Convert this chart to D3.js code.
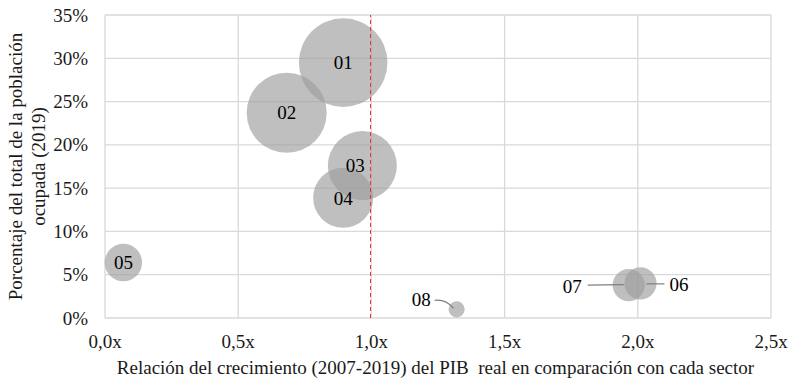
<!DOCTYPE html>
<html>
<head>
<meta charset="utf-8">
<script src="https://cdn.jsdelivr.net/npm/d3@7"></script>
</head>
<body style="margin:0">
<svg id="chart" width="792" height="380"></svg>
<script>
// ---- data ----
const sectors = ["01", "02", "03", "04", "05", "06", "07", "08"];
const growthRatio = [0.894, 0.682, 0.966, 0.894, 0.069, 2.010, 1.966, 1.320];
const employmentShare = [0.295, 0.237, 0.176, 0.139, 0.064, 0.040, 0.038, 0.010];
const bubbleSize = [19.6, 16.0, 11.9, 9.0, 3.5, 2.6, 2.6, 0.65];
const xTicks = [0, 0.5, 1.0, 1.5, 2.0, 2.5];
const yTicks = [0, 0.05, 0.10, 0.15, 0.20, 0.25, 0.30, 0.35];
const referenceX = 1.0;
// label placement: "in" = centered on bubble, "right"/"left" = leader line
const labelMode = ["in", "in", "in", "in", "in", "right", "left", "left"];

const FONT = '"Liberation Serif", monospace';
const FS = 19;
const svg = d3.select("#chart");
const margin = { left: 105, right: 21, top: 15, bottom: 62 };
const W = 792, H = 380;

const x = d3.scaleLinear().domain([0, 2.5]).range([margin.left, W - margin.right]);
const y = d3.scaleLinear().domain([0, 0.35]).range([H - margin.bottom, margin.top]);
const r = d3.scaleSqrt().domain([0, 19.6]).range([0, 44.3]);

const fmtX = d => d3.format(".1f")(d).replace(".", ",") + "x";
const fmtY = d => Math.round(d * 100) + "%";

function txt(parent, s, size) {
  return parent.append("text").attr("font-size", size)
    .style("font-family", FONT).attr("fill", "#1a1a1a").text(s);
}

// gridlines
const grid = svg.append("g");
grid.selectAll("line.h").data(yTicks).join("line")
  .attr("x1", x(0)).attr("x2", x(2.5))
  .attr("y1", d => y(d)).attr("y2", d => y(d))
  .attr("stroke", "#d9d9d9").attr("stroke-width", 1.3);
grid.selectAll("line.v").data(xTicks).join("line")
  .attr("y1", y(0)).attr("y2", y(0.35))
  .attr("x1", d => x(d)).attr("x2", d => x(d))
  .attr("stroke", "#d9d9d9").attr("stroke-width", 1.3);

// tick labels drawn from scales
xTicks.forEach(t => {
  txt(svg, fmtX(t), FS).attr("x", x(t)).attr("y", y(0) + 30).attr("text-anchor", "middle");
});
yTicks.forEach(t => {
  txt(svg, fmtY(t), FS).attr("x", x(0) - 17).attr("y", y(t) + 6.5).attr("text-anchor", "end");
});

// bubbles
const data = sectors.map((s, i) => ({
  s, gx: growthRatio[i], sh: employmentShare[i], sz: bubbleSize[i], mode: labelMode[i]
}));

svg.append("g").selectAll("circle").data(data).join("circle")
  .attr("cx", d => x(d.gx)).attr("cy", d => y(d.sh)).attr("r", d => r(d.sz))
  .attr("fill", "rgb(158,158,158)").attr("fill-opacity", 0.66);

// reference dashed line (on top of bubbles)
const rx = Math.round(x(referenceX)) - 0.5;
svg.append("line")
  .attr("x1", rx).attr("x2", rx)
  .attr("y1", y(0)).attr("y2", y(0.35))
  .attr("stroke", "#ff2a2a").attr("stroke-width", 1)
  .attr("stroke-dasharray", "4,3");

// labels inside bubbles
const lab = svg.append("g");
data.filter(d => d.mode === "in").forEach(d => {
  let dx = 0, dy = 0;
  if (d.s === "03") dx = -7;
  if (d.s === "04") dy = 1;
  txt(lab, d.s, FS).attr("fill", "#000")
    .attr("x", x(d.gx) + dx).attr("y", y(d.sh) + dy + 6.5)
    .attr("text-anchor", "middle");
});

// leader-line labels
const leader = svg.append("g");
data.filter(d => d.mode !== "in").forEach(d => {
  const cx = x(d.gx), cy = y(d.sh);
  if (d.s === "06") {
    leader.append("path")
      .attr("d", `M${cx + 6},${cy + 0.5} L${cx + 24},${cy + 0.5}`)
      .attr("stroke", "#7f7f7f").attr("stroke-width", 1.2).attr("fill", "none");
    txt(leader, d.s, FS).attr("fill", "#000").attr("x", cx + 29).attr("y", cy + 8);
  } else if (d.s === "07") {
    leader.append("path")
      .attr("d", `M${cx - 5},${cy - 0.5} L${cx - 41},${cy}`)
      .attr("stroke", "#7f7f7f").attr("stroke-width", 1.2).attr("fill", "none");
    txt(leader, d.s, FS).attr("fill", "#000").attr("x", cx - 47).attr("y", cy + 8)
      .attr("text-anchor", "end");
  } else if (d.s === "08") {
    leader.append("path")
      .attr("d", `M${cx - 3},${cy - 1} C${cx - 9},${cy - 8} ${cx - 15},${cy - 10} ${cx - 22},${cy - 9}`)
      .attr("stroke", "#7f7f7f").attr("stroke-width", 1.2).attr("fill", "none");
    txt(leader, d.s, FS).attr("fill", "#000").attr("x", cx - 26).attr("y", cy - 3)
      .attr("text-anchor", "end");
  }
});

// axis titles
txt(svg, "Relación del crecimiento (2007-2019) del PIB\u00A0 real en comparación con cada sector", FS)
  .attr("x", (x(0) + x(2.5)) / 2 - 2.5).attr("y", 374)
  .attr("text-anchor", "middle");

const yt = txt(svg, "", FS)
  .attr("transform", `translate(22,${(y(0) + y(0.35)) / 2}) rotate(-90)`)
  .attr("text-anchor", "middle");
yt.append("tspan").attr("x", 0).attr("y", 0).text("Porcentaje del total de la población");
yt.append("tspan").attr("x", 0).attr("y", 23).text("ocupada (2019)");
</script>
</body>
</html>
